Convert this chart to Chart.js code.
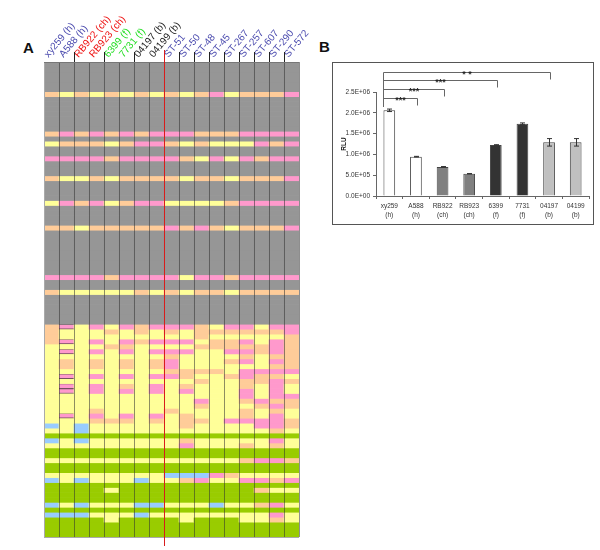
<!DOCTYPE html>
<html>
<head>
<meta charset="utf-8">
<title>Strain calls and RLU</title>
<script src="https://cdn.jsdelivr.net/npm/chart.js@4/dist/chart.umd.min.js"></script>
<style>
  html, body { margin: 0; padding: 0; background: #fff; }
  body { position: relative; width: 600px; height: 550px; overflow: hidden; font-family: "Liberation Sans", Arial, sans-serif; }
  canvas { position: absolute; display: block; }
  .panel-letter { position: absolute; font-weight: 700; font-size: 15px; line-height: 15px; color: #111; }
  #frameB { position: absolute; left: 332px; top: 62px; width: 262px; height: 163px; border: 1px solid #555; box-sizing: border-box; }
</style>
</head>
<body>
<div class="panel-letter" style="left:23px;top:40px">A</div>
<div class="panel-letter" style="left:319px;top:39px">B</div>
<div id="frameB"></div>
<canvas id="heatChart" width="310" height="550" style="left:0;top:0"></canvas>
<canvas id="rluChart" width="262" height="163" style="left:332px;top:62px"></canvas>

<script>
// Panel A: strains and their per-gene calls
// g grey, o orange, y yellow, p pink, b blue, G green
var heatStrains = ['xy259 (h)', 'A588 (h)', 'RB922 (ch)', 'RB923 (ch)', '6399 (f)', '7731 (f)', '04197 (b)', '04199 (b)',
  'ST-51', 'ST-50', 'ST-48', 'ST-45', 'ST-267', 'ST-257', 'ST-607', 'ST-290', 'ST-572'];
var strainGroups = ['blue', 'blue', 'red', 'red', 'lime', 'lime', 'black', 'black',
  'blue', 'blue', 'blue', 'blue', 'blue', 'blue', 'blue', 'blue', 'blue'];
var tickedEdges = [2, 4, 6, 9, 10, 11, 12, 13, 14, 15, 16];
var dividerEdge = 8;
var outlinedStrain = 1;   // A588: its pink cells are ruled top and bottom
var firstLowerRow = 53;

var none = 'ggggggggggggggggg';
var allG = 'GGGGGGGGGGGGGGGGG';
var heatRows = [
  none, none, none, none, none, none,
  'oyoyoyoyoyopyooop',
  none, none, none, none, none, none, none,
  'opopopopppooopppp',
  none,
  'yoooyoppoyoyyypop',
  none, none,
  'ppppoppppoypypopp',
  none, none, none,
  'oyyoyooooyooyooop',
  none, none, none, none,
  'ypopyoppyyyyopppp',
  none, none, none, none,
  'ooyooooopopoyooop',
  none, none, none, none, none, none, none, none, none,
  'ppppoppppyppopppp',
  none, none,
  'oyyyyyoyoyooyoooo',
  none, none, none, none, none, none,
  'opypypopppoyppypp',
  'oyyyoyoyoyoooooop',
  'oyyyyyyyyyoyyyyyo',
  'opypypopppyoopypo',
  'yyyyooyyyyooooopo',
  'ypypypypppyyppopo',
  'yyyyyyyyoyyyyoyoo',
  'yoyoyoyopyyyopypo',
  'yoyoyoyopyyyyyyoo',
  'yyyyyyyyooooypppp',
  'ypypypyppoyyopooy',
  'yyyyyyyyyyoyyoopo',
  'ypypyoypyoyyyoypy',
  'ypypypypypyyypypy',
  'yyyyyyyyyyyyypypp',
  'yyyyyyyyyypyyopoo',
  'yyyyyyyyyyoyyyopo',
  'yyyoyyyyoyyyyoyoy',
  'ypypypypyoyyyoypy',
  'yyyoooyoyooyppppo',
  'bybyyyyyyoyyyyppo',
  'yybyyyyyyyyyyyyoy',
  allG,
  'bybyyyyyyoyyyyypy',
  'yyyyyyyyypyyyoyoy',
  allG, allG,
  'yyyyyyyyyyyyyoppo',
  allG, allG,
  'yyyyyyyybbbpoyyyy',
  'bybyyybyyopyyppop',
  allG,
  'GGGGyGGGGGGGGGoyy',
  allG, allG,
  'bybyyybbyyybyyopy',
  allG,
  'bbbyyybyyyyyyyypy',
  'GGGGyGGGGyGGGyyoy',
  allG, allG, allG
];

// Panel B: luciferase values
var rluStrains = [['xy259', '(h)'], ['A588', '(h)'], ['RB922', '(ch)'], ['RB923', '(ch)'],
  ['6399', '(f)'], ['7731', '(f)'], ['04197', '(b)'], ['04199', '(b)']];
var rluValues = [2060000, 945000, 700000, 535000, 1225000, 1735000, 1290000, 1290000];
var rluErrors = [30000, 8000, 8000, 4000, 8000, 22000, 90000, 90000];
var sigTargets = [1, 2, 4, 6];
var sigLevels = [2360000, 2570000, 2780000, 2990000];
var sigStars = ['***', '***', '***', '* *'];

var callColours = { g: '#969696', o: '#ffcc99', y: '#ffff99', p: '#ff99cc', b: '#99ccff', G: '#99cc00' };
var groupColours = { blue: '#4a4aae', red: '#ee1111', lime: '#22dd22', black: '#222222' };
var rluColours = ['#ffffff', '#ffffff', '#808080', '#808080', '#333333', '#333333', '#c0c0c0', '#c0c0c0'];

var heatDatasets = heatRows.map(function(row, r) {
  return {
    data: heatStrains.map(function() { return [r, r + 1]; }),
    backgroundColor: row.split('').map(function(code) { return callColours[code]; }),
    borderColor: '#75505f',
    borderSkipped: false,
    borderWidth: row.split('').map(function(code, c) {
      var ruled = c === outlinedStrain && code === 'p' && r >= firstLowerRow;
      return ruled ? { top: 1, bottom: 1, left: 0, right: 0 } : 0;
    }),
    grouped: false,
    barPercentage: 1,
    categoryPercentage: 1
  };
});

// Red divider and the outline above and below the grid
var heatDecor = {
  id: 'heatDecor',
  afterDraw: function(chart) {
    var ctx = chart.ctx, area = chart.chartArea;
    var x = Math.round(chart.scales.x.getPixelForValue(dividerEdge - 0.5)) + 0.5;
    ctx.save();
    ctx.strokeStyle = '#777777';
    ctx.lineWidth = 1;
    ctx.beginPath();
    ctx.moveTo(area.left, area.top + 0.5);
    ctx.lineTo(area.right, area.top + 0.5);
    ctx.stroke();
    ctx.strokeStyle = '#aaaaaa';
    ctx.beginPath();
    ctx.moveTo(area.left, area.bottom + 0.5);
    ctx.lineTo(area.right, area.bottom + 0.5);
    ctx.stroke();
    ctx.strokeStyle = '#d81c1c';
    ctx.beginPath();
    ctx.moveTo(x, area.top - 12);
    ctx.lineTo(x, area.bottom + 9);
    ctx.stroke();
    ctx.restore();
  }
};

new Chart(document.getElementById('heatChart'), {
  type: 'bar',
  data: { labels: heatStrains, datasets: heatDatasets },
  plugins: [heatDecor],
  options: {
    responsive: false,
    animation: false,
    devicePixelRatio: 1,
    layout: { padding: { left: 44, right: 11, top: 0, bottom: 13 } },
    plugins: { legend: { display: false }, tooltip: { enabled: false } },
    scales: {
      x: {
        position: 'top',
        afterFit: function(scale) { scale.height = 62; scale.paddingLeft = 0; scale.paddingRight = 0; },
        border: { display: false },
        grid: {
          z: 1,
          tickLength: 10,
          color: function(c) {
            return (c.index === 0 || c.index === heatStrains.length) ? '#aaaaaa' : 'rgba(50,50,50,0.55)';
          },
          tickColor: function(c) {
            return tickedEdges.indexOf(c.index) >= 0 ? '#222222' : 'rgba(0,0,0,0)';
          }
        },
        ticks: {
          autoSkip: false,
          minRotation: 50,
          maxRotation: 50,
          padding: -8,
          labelOffset: 4,
          font: { family: '"Liberation Sans", Arial, sans-serif', size: 10 },
          color: function(c) { return groupColours[strainGroups[c.index]]; }
        }
      },
      y: { display: false, reverse: true, min: 0, max: heatRows.length }
    }
  }
});

// Error bars and significance brackets for panel B
var rluDecor = {
  id: 'rluDecor',
  afterDatasetsDraw: function(chart) {
    var ctx = chart.ctx, xs = chart.scales.x, ys = chart.scales.y;
    var i;
    ctx.save();
    ctx.strokeStyle = '#333333';
    ctx.lineWidth = 1;
    for (i = 0; i < rluValues.length; i++) {
      var ex = Math.round(xs.getPixelForValue(i)) + 0.5;
      var hi = ys.getPixelForValue(rluValues[i] + rluErrors[i]);
      var lo = ys.getPixelForValue(rluValues[i] - rluErrors[i]);
      ctx.beginPath();
      ctx.moveTo(ex, hi); ctx.lineTo(ex, lo);
      ctx.moveTo(ex - 2.5, hi); ctx.lineTo(ex + 2.5, hi);
      ctx.moveTo(ex - 2.5, lo); ctx.lineTo(ex + 2.5, lo);
      ctx.stroke();
    }
    var left = Math.round(xs.getPixelForValue(0) - 6) + 0.5;
    ctx.strokeStyle = '#666666';
    ctx.fillStyle = '#222222';
    ctx.font = 'bold 9px "Liberation Sans", Arial, sans-serif';
    ctx.textAlign = 'center';
    ctx.textBaseline = 'alphabetic';
    ctx.beginPath();
    ctx.moveTo(left, Math.round(ys.getPixelForValue(sigLevels[3])) + 0.5);
    ctx.lineTo(left, Math.round(ys.getPixelForValue(sigLevels[0])) + 9);
    ctx.stroke();
    for (i = 0; i < sigTargets.length; i++) {
      var y = Math.round(ys.getPixelForValue(sigLevels[i])) + 0.5;
      var right = Math.round(xs.getPixelForValue(sigTargets[i]) + 1) + 0.5;
      ctx.beginPath();
      ctx.moveTo(left, y); ctx.lineTo(right, y); ctx.lineTo(right, y + 7);
      ctx.stroke();
      ctx.fillText(sigStars[i], (left + right) / 2, y + 4);
    }
    ctx.restore();
  }
};

new Chart(document.getElementById('rluChart'), {
  type: 'bar',
  data: {
    labels: rluStrains,
    datasets: [{
      data: rluValues,
      backgroundColor: rluColours,
      borderColor: '#444444',
      borderWidth: 1,
      barPercentage: 0.44,
      categoryPercentage: 1
    }]
  },
  plugins: [rluDecor],
  options: {
    responsive: false,
    animation: false,
    devicePixelRatio: 1,
    layout: { padding: { left: 0, right: 5, top: 30, bottom: 0 } },
    plugins: { legend: { display: false }, tooltip: { enabled: false } },
    scales: {
      x: {
        afterFit: function(scale) { scale.height = 29; scale.paddingLeft = 0; scale.paddingRight = 0; },
        border: { color: '#666666' },
        grid: { drawOnChartArea: false, color: '#666666', tickLength: 3 },
        ticks: {
          maxRotation: 0,
          autoSkip: false,
          padding: 3,
          color: '#333333',
          font: { family: '"Liberation Sans", Arial, sans-serif', size: 6.5, lineHeight: 1.35 }
        }
      },
      y: {
        min: 0,
        max: 2500000,
        afterFit: function(scale) { scale.width = 44; },
        border: { color: '#666666' },
        grid: { drawOnChartArea: false, color: '#666666', tickLength: 3 },
        title: {
          display: true,
          text: 'RLU',
          color: '#111111',
          padding: { top: 8, bottom: 0 },
          font: { family: '"Liberation Sans", Arial, sans-serif', size: 6.5, weight: 'bold' }
        },
        ticks: {
          stepSize: 500000,
          padding: 3,
          color: '#333333',
          font: { family: '"Liberation Sans", Arial, sans-serif', size: 6.5 },
          callback: function(v) { return v.toExponential(1).toUpperCase().replace(/E\+(\d)$/, 'E+0$1'); }
        }
      }
    }
  }
});
</script>
</body>
</html>
